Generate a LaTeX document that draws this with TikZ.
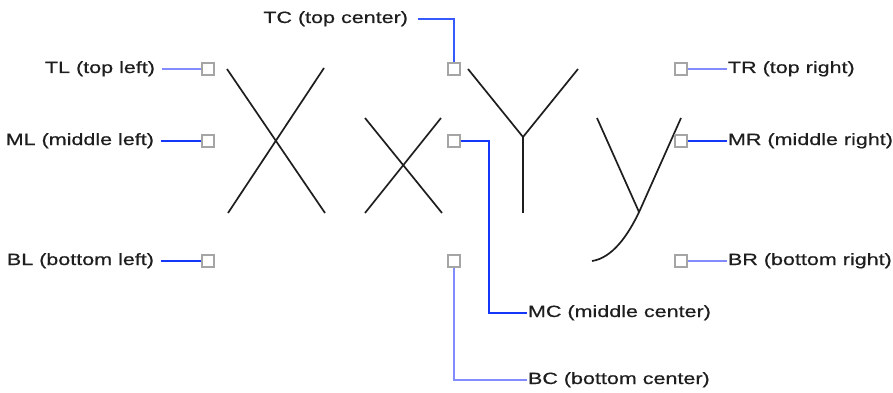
\documentclass[tikz,border=0pt]{standalone}
\usepackage{fontspec}
\setmainfont{Liberation Sans}[FakeStretch=1.32,FakeBold=0.6]
\definecolor{lblue}{RGB}{130,140,255}
\definecolor{dblue}{RGB}{20,55,250}
\definecolor{mblue}{RGB}{55,90,255}
\definecolor{sqgray}{RGB}{165,165,165}
\definecolor{ink}{RGB}{30,30,30}
\begin{document}
\begin{tikzpicture}[x=1pt,y=-1pt,
  glyph/.style={draw=ink, line width=1.7pt},
  sq/.style={draw=sqgray, fill=white, line width=1.4pt, minimum size=12pt, inner sep=0pt, shape=rectangle},
  lbl/.style={inner sep=0pt, outer xsep=7pt, font=\fontsize{16.3}{19}\selectfont, text=ink},
  conn/.style={line width=1.6pt}]
\useasboundingbox (0,0) rectangle (893,393);
% glyphs
\draw[glyph] (227,69) -- (325,213);
\draw[glyph] (324,68) -- (228,213);
\draw[glyph] (365,118) -- (442,213);
\draw[glyph] (441,118) -- (365,213);
\draw[glyph] (468,69) -- (523,137) -- (578,69);
\draw[glyph] (523,137) -- (523,213);
\draw[glyph] (597,118) -- (639,212);
\draw[glyph] (681,118) -- (640,210) .. controls (628,236) and (612,258) .. (592,261);
% squares
\node[sq] (sTL) at (208,69) {};
\node[sq] (sML) at (208,141) {};
\node[sq] (sBL) at (208,261) {};
\node[sq] (sTC) at (454,69) {};
\node[sq] (sMC) at (454,141) {};
\node[sq] (sBC) at (454,261) {};
\node[sq] (sTR) at (681,69) {};
\node[sq] (sMR) at (681,141) {};
\node[sq] (sBR) at (681,261) {};
% labels
\node[lbl, anchor=base east] (tlL) at (162,73) {TL (top left)};
\node[lbl, anchor=base east] (mlL) at (161,145) {ML (middle left)};
\node[lbl, anchor=base east] (blL) at (161,265) {BL (bottom left)};
\node[lbl, anchor=base east, outer xsep=10pt] (tcL) at (418,23) {TC (top center)};
\node[lbl, anchor=base west, outer xsep=1pt] (trL) at (727,73) {TR (top right)};
\node[lbl, anchor=base west, outer xsep=1pt] (mrL) at (727,145) {MR (middle right)};
\node[lbl, anchor=base west, outer xsep=1pt] (brL) at (727,265) {BR (bottom right)};
\node[lbl, anchor=base west, outer xsep=1pt] (mcL) at (527,317) {MC (middle center)};
\node[lbl, anchor=base west, outer xsep=1pt] (bcL) at (527,384) {BC (bottom center)};
% connectors
\coordinate (tcK) at (454,19);
\coordinate (mcK1) at (489,141);
\coordinate (mcK2) at (489,313);
\coordinate (bcK) at (454,380);
\draw[conn, lblue] (tlL.east |- sTL) -- (sTL);
\draw[conn, dblue] (mlL.east |- sML) -- (sML);
\draw[conn, dblue] (blL.east |- sBL) -- (sBL);
\draw[conn, mblue] (tcL.east |- tcK) -- (tcK) -- (sTC);
\draw[conn, lblue] (sTR) -- (trL.west |- sTR);
\draw[conn, dblue] (sMR) -- (mrL.west |- sMR);
\draw[conn, lblue] (sBR) -- (brL.west |- sBR);
\draw[conn, dblue] (sMC) -- (mcK1) -- (mcK2) -- (mcL.west |- mcK2);
\draw[conn, lblue] (sBC) -- (bcK) -- (bcL.west |- bcK);
\end{tikzpicture}
\end{document}
